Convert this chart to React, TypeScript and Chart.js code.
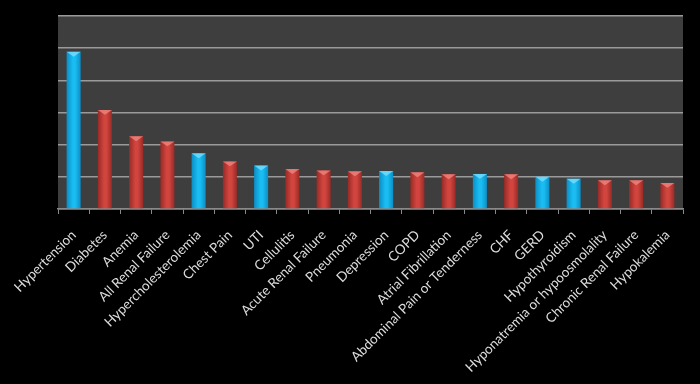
import React, { useEffect, useRef } from "react";
import { Chart, registerables } from "chart.js";

Chart.register(...registerables);

const categories = [
  "Hypertension",
  "Diabetes",
  "Anemia",
  "All Renal Failure",
  "Hypercholesterolemia",
  "Chest Pain",
  "UTI",
  "Cellulitis",
  "Acute Renal Failure",
  "Pneumonia",
  "Depression",
  "COPD",
  "Atrial Fibrillation",
  "Abdominal Pain or Tenderness",
  "CHF",
  "GERD",
  "Hypothyroidism",
  "Hyponatremia or hypoosmolality",
  "Chronic Renal Failure",
  "Hypokalemia",
];

const values = [
  4.89, 3.08, 2.26, 2.1, 1.73, 1.48, 1.35, 1.24, 1.2, 1.17, 1.18, 1.14, 1.08,
  1.09, 1.08, 1.0, 0.94, 0.89, 0.89, 0.81,
];

// true = blue bar, false = red bar
const highlighted = [
  true, false, false, false, true, false, true, false, false, false, true,
  false, false, true, false, true, true, false, false, false,
];

const yMin = 0;
const yMax = 6;
const yStep = 1;

const BLUE = { edge: "#0a86bd", mid: "#19bdf2", cap: "#7fe0ff" };
const RED = { edge: "#8e2622", mid: "#d2453f", cap: "#f08a84" };

const plotBg = {
  id: "plotBg",
  beforeDraw(chart: any) {
    const { ctx, chartArea } = chart;
    if (!chartArea) return;
    ctx.save();
    ctx.fillStyle = "#3e3e3e";
    ctx.fillRect(
      chartArea.left,
      chartArea.top,
      chartArea.right - chartArea.left,
      chartArea.bottom - chartArea.top
    );
    ctx.restore();
  },
};

const barCaps = {
  id: "barCaps",
  afterDatasetsDraw(chart: any) {
    const { ctx } = chart;
    const meta = chart.getDatasetMeta(0);
    ctx.save();
    meta.data.forEach((bar: any, i: number) => {
      const pal = highlighted[i] ? BLUE : RED;
      const w = bar.width;
      const left = bar.x - w / 2;
      const right = bar.x + w / 2;
      const top = bar.y;
      const h = w * 0.35;
      ctx.fillStyle = pal.cap;
      ctx.globalAlpha = 0.75;
      ctx.beginPath();
      ctx.moveTo(left, top);
      ctx.lineTo(right, top);
      ctx.lineTo(bar.x, top + h);
      ctx.closePath();
      ctx.fill();
    });
    ctx.restore();
  },
};

export default function App() {
  const ref = useRef<HTMLCanvasElement | null>(null);

  useEffect(() => {
    document.body.style.margin = "0";
    document.body.style.background = "#000";
    const canvas = ref.current;
    if (!canvas) return;

    const chart = new Chart(canvas, {
      type: "bar",
      data: {
        labels: categories,
        datasets: [
          {
            data: values,
            backgroundColor: (c: any) => {
              const chartObj = c.chart;
              const pal = highlighted[c.dataIndex] ? BLUE : RED;
              const xs = chartObj.scales && chartObj.scales.x;
              if (!xs || !chartObj.chartArea) return pal.mid;
              const cx = xs.getPixelForValue(c.dataIndex);
              const half = 8;
              const g = chartObj.ctx.createLinearGradient(cx - half, 0, cx + half, 0);
              g.addColorStop(0, pal.edge);
              g.addColorStop(0.45, pal.mid);
              g.addColorStop(0.6, pal.mid);
              g.addColorStop(1, pal.edge);
              return g;
            },
            borderWidth: 0,
            categoryPercentage: 1,
            barPercentage: 0.45,
          },
        ],
      },
      options: {
        responsive: false,
        animation: false,
        events: [],
        layout: { padding: { left: 58, right: 17, top: 16, bottom: 0 } },
        plugins: {
          legend: { display: false },
          tooltip: { enabled: false },
        },
        scales: {
          x: {
            grid: {
              display: true,
              drawOnChartArea: false,
              drawTicks: true,
              tickLength: 5,
              color: "#8a8a8a",
              lineWidth: 1,
            },
            border: { display: true, color: "#8a8a8a", width: 1.5 },
            ticks: {
              autoSkip: false,
              minRotation: 45,
              maxRotation: 45,
              color: "#dcdcdc",
              padding: 13,
              font: { family: "Lato", size: 13.5 },
            },
            afterFit: (scale: any) => {
              scale.height = 175;
            },
          },
          y: {
            min: yMin,
            max: yMax,
            ticks: { display: false, stepSize: yStep },
            grid: {
              color: "#9a9a9a",
              lineWidth: 1.5,
              drawTicks: false,
            },
            border: { display: false },
            afterFit: (scale: any) => {
              scale.width = 0;
            },
          },
        },
      },
      plugins: [plotBg, barCaps],
    });

    return () => chart.destroy();
  }, []);

  return (
    <div style={{ width: 700, height: 384, background: "#000" }}>
      <canvas ref={ref} width={700} height={384} style={{ display: "block" }} />
    </div>
  );
}
